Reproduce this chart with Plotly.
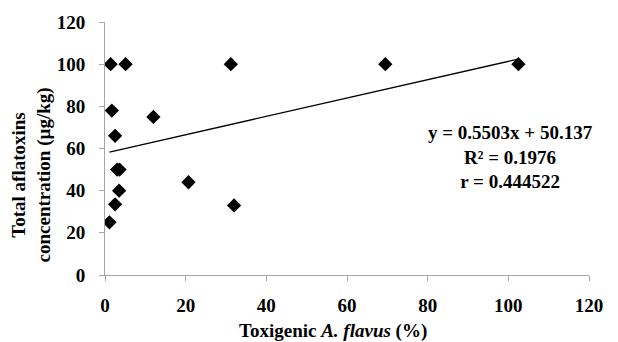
import plotly.graph_objects as go

# Data
toxigenic_pct = [1.1, 1.4, 1.7, 2.5, 2.5, 3.0, 3.6, 3.5, 5.1, 12.0, 20.7, 31.2, 32.0, 69.5, 102.5]
aflatoxin_ugkg = [25, 100, 78, 66, 33.5, 50, 50, 40, 100, 75, 44, 100, 33, 100, 100]
trend_x = [1.1, 102.2]
trend_y = [58.3, 102.3]
equation_lines = ["y = 0.5503x + 50.137", "R² = 0.1976", "r = 0.444522"]
x_ticks = [0, 20, 40, 60, 80, 100, 120]
y_ticks = [0, 20, 40, 60, 80, 100, 120]
x_title = "Toxigenic <i>A. flavus</i> (%)"
y_title = "Total aflatoxins<br>concentration (µg/kg)"

font_family = "Liberation Serif"
axis_color = "#a6a6a6"
fs = 19
PW, PH = 484.3, 252.6  # plot area size in px

fig = go.Figure()
fig.add_trace(go.Scatter(x=toxigenic_pct, y=aflatoxin_ugkg, mode="markers",
                         marker=dict(symbol="diamond", size=11, color="black"),
                         showlegend=False))
fig.add_trace(go.Scatter(x=trend_x, y=trend_y, mode="lines",
                         line=dict(color="black", width=1.3), showlegend=False))

fig.add_annotation(x=(510 - 104.7) / PW, y=(274.7 - 157) / PH, xref="paper", yref="paper",
                   xanchor="center", yanchor="middle",
                   text="<br>".join("<b>%s</b>" % s for s in equation_lines),
                   showarrow=False, align="center",
                   font=dict(family=font_family, size=fs, color="black"))

# axis titles as annotations for precise placement
fig.add_annotation(x=(333 - 104.7) / PW, y=-(331 - 274.7) / PH, xref="paper", yref="paper",
                   xanchor="center", yanchor="middle",
                   text="<b>%s</b>" % x_title, showarrow=False,
                   font=dict(family=font_family, size=fs, color="black"))
fig.add_annotation(x=-(104.7 - 31) / PW, y=(274.7 - 175) / PH, xref="paper", yref="paper",
                   xanchor="center", yanchor="middle",
                   text="<b>%s</b>" % y_title, showarrow=False, textangle=-90,
                   font=dict(family=font_family, size=fs, color="black"))

fig.update_xaxes(range=[0, 120], tickvals=x_ticks, showgrid=False, zeroline=False,
                 showline=True, linecolor=axis_color, linewidth=1, automargin=False,
                 ticks="outside", ticklen=5, tickcolor=axis_color, ticklabelstandoff=8,
                 tickfont=dict(family=font_family, size=fs, color="black", weight="bold"))
fig.update_yaxes(range=[0, 120], tickvals=y_ticks, showgrid=False, zeroline=False,
                 showline=True, linecolor=axis_color, linewidth=1, automargin=False,
                 ticks="outside", ticklen=5, tickcolor=axis_color, ticklabelstandoff=10,
                 tickfont=dict(family=font_family, size=fs, color="black", weight="bold"))

# page body has an 8px margin, so shift the plot area up/left by 8px
ml, mt = 104.7 - 8, 22.1 - 8
fig.update_layout(width=618, height=342,
                  margin=dict(l=ml, t=mt, r=618 - ml - PW, b=342 - mt - PH),
                  plot_bgcolor="white", paper_bgcolor="white")

fig.write_html("out.html")
